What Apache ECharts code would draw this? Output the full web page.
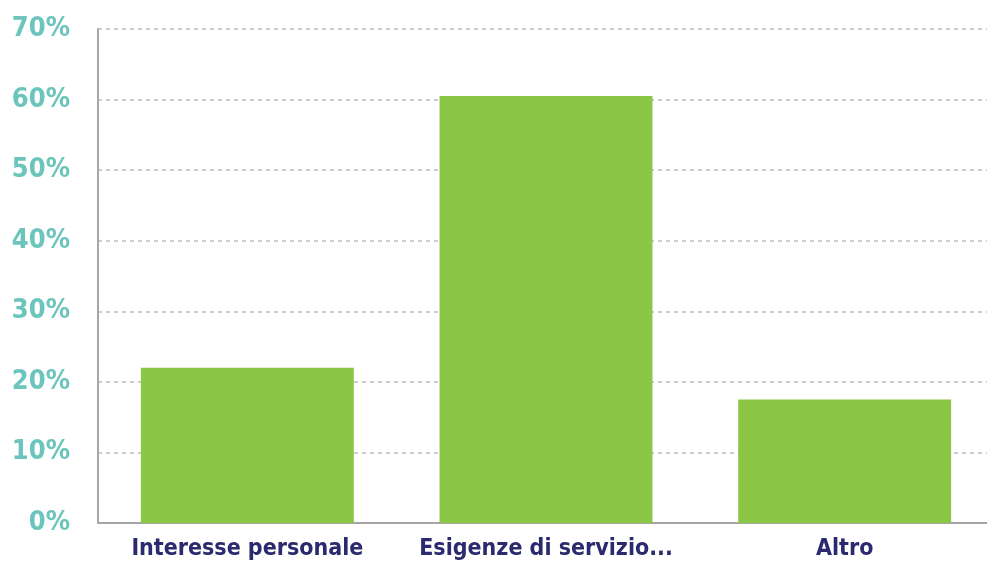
<!DOCTYPE html>
<html><head><meta charset="utf-8">
<script src="https://cdn.jsdelivr.net/npm/echarts@6/dist/echarts.min.js"></script>
<style>html,body{margin:0;padding:0;background:#fff;overflow:hidden}#c{width:1000px;height:565px}</style>
</head><body><div id="c"></div>
<script>
const categories = ['Interesse personale', 'Esigenze di servizio...', 'Altro'];
const values = [22, 60.5, 17.5];
const yTicks = [0, 10, 20, 30, 40, 50, 60, 70];

const FONT = "'DejaVu Sans Condensed', 'Liberation Sans Narrow', 'Roboto Condensed', sans-serif";
const chart = echarts.init(document.getElementById('c'), null, {renderer: 'canvas'});
chart.setOption({
  animation: false,
  grid: {left: 98, top: 29, width: 896, height: 494, containLabel: false},
  xAxis: {
    type: 'category', data: categories,
    axisLine: {lineStyle: {color: '#a6a6a6', width: 2}},
    axisTick: {show: false},
    axisLabel: {interval: 0, margin: 15, color: '#2b2a6e', fontFamily: FONT, fontWeight: 'bold', fontSize: 23}
  },
  yAxis: {
    type: 'value', min: yTicks[0], max: yTicks[yTicks.length - 1], interval: 10,
    axisLine: {show: true, lineStyle: {color: '#a6a6a6', width: 2}},
    axisTick: {show: false},
    splitLine: {lineStyle: {color: '#bdbdbd', type: [4, 4], width: 1.5}},
    axisLabel: {margin: 28, color: '#6cc5bd', fontFamily: FONT, fontWeight: 'bold', fontSize: 27, formatter: '{value}%'}
  },
  series: [{
    type: 'bar', data: values, barWidth: '71.3%',
    itemStyle: {color: '#8cc646'}
  }]
});
</script></body></html>
